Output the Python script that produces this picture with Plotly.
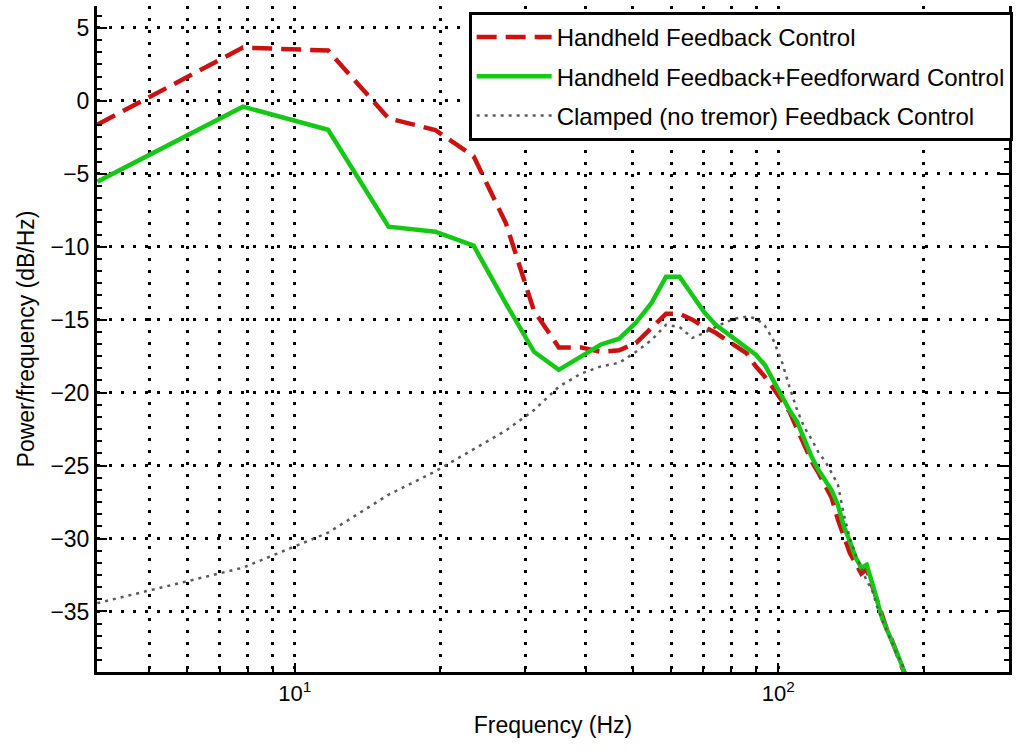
import plotly.graph_objects as go
import math

# Frequency bins (Hz)
freq = [3.906, 7.813, 11.72, 15.63, 19.53, 23.44, 27.34, 31.25, 35.16, 39.06,
        42.97, 46.88, 50.78, 54.69, 58.59, 62.5, 66.41, 70.31, 74.22, 78.13,
        82.03, 85.94, 89.84, 93.75, 97.66, 101.56, 105.47, 109.38, 113.28, 117.19,
        121.09, 125.0, 128.91, 132.81, 136.72, 140.63, 144.53, 148.44, 152.34, 156.25,
        160.16, 164.06, 167.97, 171.88, 175.78, 179.69, 183.59, 187.5]

# Handheld Feedback Control (dB/Hz)
fb = [-1.63, 3.65, 3.45, -1.2, -2.0, -3.8, -8.4, -14.4, -16.9, -16.9,
      -17.2, -17.1, -16.6, -15.6, -14.6, -14.6, -15.0, -15.5, -15.9, -16.4,
      -16.9, -17.3, -18.2, -18.9, -19.7, -20.5, -21.3, -22.5, -23.6, -24.7,
      -25.5, -26.3, -27.2, -28.7, -29.9, -31.0, -31.7, -32.4, -32.1, -33.2,
      -34.3, -35.5, -36.3, -37.0, -37.8, -38.6, -39.4, -40.3]

# Handheld Feedback+Feedforward Control (dB/Hz)
fbff = [-5.54, -0.40, -1.98, -8.63, -8.97, -9.93, -13.9, -17.2, -18.44, -17.5,
        -16.7, -16.3, -15.2, -13.85, -12.06, -12.06, -13.3, -14.5, -15.35, -15.9,
        -16.4, -16.9, -17.4, -18.1, -19.2, -20.3, -21.2, -22.0, -23.2, -24.4,
        -25.3, -26.0, -26.7, -27.7, -29.2, -30.2, -31.3, -32.0, -31.8, -33.0,
        -34.2, -35.5, -36.3, -37.0, -37.8, -38.6, -39.4, -40.3]

# Clamped (no tremor) Feedback Control (dB/Hz)
clamped = [-34.43, -32.0, -29.6, -27.0, -25.4, -23.9, -22.6, -21.2, -19.6, -18.7,
           -18.2, -17.96, -17.2, -16.4, -15.35, -15.5, -16.25, -15.9, -15.5, -15.15,
           -14.9, -14.8, -14.9, -15.4, -16.4, -17.8, -19.6, -21.2, -22.4, -23.2,
           -24.1, -24.7, -25.5, -26.3, -28.4, -30.0, -31.1, -32.0, -32.9, -33.5,
           -34.7, -35.6, -36.4, -37.2, -37.9, -38.5, -39.2, -40.0]

names = ["Handheld Feedback Control",
         "Handheld Feedback+Feedforward Control",
         "Clamped (no tremor) Feedback Control"]

x_major = [10, 100]
x_major_text = ["10<sup>1</sup>", "10<sup>2</sup>"]
x_minor = [5, 6, 7, 8, 9, 20, 30, 40, 50, 60, 70, 80, 90, 200]

FONT = "Liberation Sans, Arial, Helvetica, sans-serif"
GRIDDASH = "3px,9px"
GRIDW = 3

fig = go.Figure()
fig.add_trace(go.Scatter(x=freq, y=fb, mode="lines", name=names[0], legendgroup="a",
                         line=dict(color="#CC1111", width=4.5, dash="20px,9px")))
fig.add_trace(go.Scatter(x=freq, y=fbff, mode="lines", name=names[1], legendgroup="b",
                         line=dict(color="#16C816", width=4.5)))
fig.add_trace(go.Scatter(x=freq, y=clamped, mode="lines", name=names[2], legendgroup="c",
                         line=dict(color="#5a5a5a", width=2.5, dash="3px,5px")))

fig.update_layout(
    width=1016, height=756,
    margin=dict(l=97, r=3, t=6, b=84),
    paper_bgcolor="white", plot_bgcolor="white",
    font=dict(family=FONT, size=23, color="black"),
    showlegend=True,
    legend=dict(x=1.004, xanchor="right", y=0.991, yanchor="top",
                bgcolor="white", bordercolor="black", borderwidth=3,
                font=dict(size=24), itemwidth=75, tracegroupgap=5,
                traceorder="grouped"),
)

fig.update_xaxes(
    type="log", range=[math.log10(3.9), math.log10(300)],
    tickvals=x_major, ticktext=x_major_text,
    ticks="inside", ticklen=9, tickwidth=2, tickcolor="black",
    showline=True, linecolor="black", linewidth=3, mirror=False,
    showgrid=True, gridcolor="black", gridwidth=GRIDW, griddash=GRIDDASH,
    zeroline=False,
    tickfont=dict(size=22),
    minor=dict(tickvals=x_minor, ticks="inside", ticklen=5, tickwidth=2, tickcolor="black",
               showgrid=True, gridcolor="black", gridwidth=GRIDW, griddash=GRIDDASH),
    title=dict(text="Frequency (Hz)", font=dict(size=23), standoff=12),
)

fig.update_yaxes(
    range=[-39.15, 6.5], tick0=0, dtick=5,
    ticks="inside", ticklen=10, tickwidth=2, tickcolor="black",
    showline=True, linecolor="black", linewidth=3, mirror="ticks",
    showgrid=True, gridcolor="black", gridwidth=GRIDW, griddash=GRIDDASH,
    zeroline=False,
    tickfont=dict(size=23),
    minor=dict(tick0=0, dtick=5 / 6, ticks="inside", ticklen=5, tickwidth=2,
               tickcolor="black", showgrid=False),
    title=dict(text="Power/frequency (dB/Hz)", font=dict(size=23), standoff=10),
)

fig.write_html("out.html")
